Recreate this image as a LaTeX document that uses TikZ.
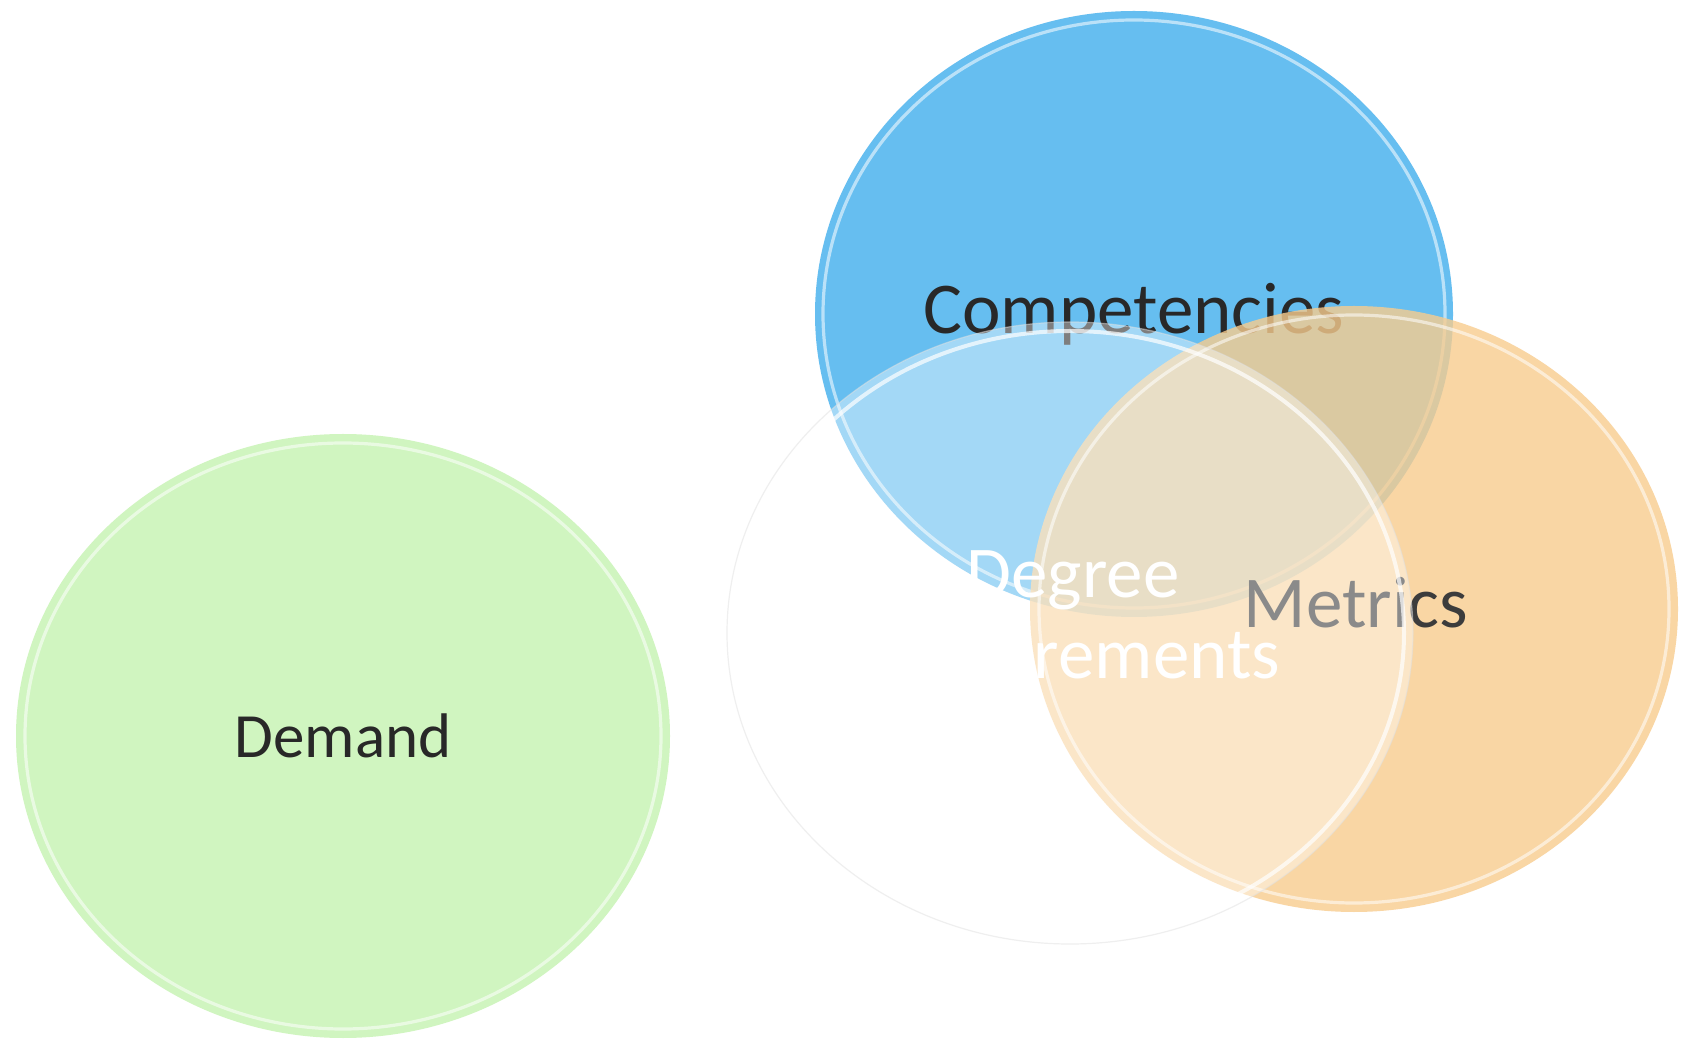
\documentclass[tikz,border=0pt]{standalone}
\usepackage{fontspec}
\setmainfont{Carlito}
\usetikzlibrary{shapes.geometric}
\definecolor{cgreen}{RGB}{208,245,192}
\definecolor{cblue}{RGB}{102,190,240}
\definecolor{corange}{RGB}{248,204,142}
\definecolor{tdark}{RGB}{40,40,40}
\definecolor{tgray}{RGB}{60,60,60}
\tikzset{
  disc/.style={ellipse, inner sep=0pt, draw=none},
  rim/.style={draw=white, draw opacity=0.55, line width=1.6pt},
  bigtxt/.style={font=\fontsize{36.5}{40.5}\selectfont},
}
\begin{document}
\begin{tikzpicture}[x=0.5pt,y=-0.5pt]
\fill[white] (0,0) rectangle (1682,1042);
\useasboundingbox (0,0) rectangle (1682,1042);
% Demand
\node[disc, fill=cgreen, minimum width=327pt, minimum height=302pt,
      text=tdark, font=\fontsize{31.5}{38}\selectfont] (dem) at (343,736) {Demand};
\draw[rim] (dem.center) ellipse [x radius=318, y radius=293];
% Competencies
\node[disc, fill=cblue, minimum width=319pt, minimum height=303pt,
      text=tdark, bigtxt] (comp) at (1134,314) {Competencies};
\draw[rim] (comp.center) ellipse [x radius=311, y radius=294];
% Metrics
\node[disc, fill=corange, fill opacity=0.8, text opacity=1, minimum width=324pt, minimum height=303pt] (met) at (1354,609) {};
\draw[rim] (met.center) ellipse [x radius=315, y radius=294];
\node[text=tgray, bigtxt] (mett) at (1356,603) {Metrics};
% Degree Requirements
\node[disc, fill=white, fill opacity=0.4, minimum width=343pt, minimum height=311pt,
      draw=black!12, draw opacity=0.5, line width=0.6pt] (deg) at (1070,633) {};
\draw[draw=white, draw opacity=0.7, line width=2pt] (deg.center) ellipse [x radius=334, y radius=302];
\node[text=white, bigtxt, align=center] (degt) at (1073,620) {Degree\\Requirements};
\end{tikzpicture}
\end{document}
